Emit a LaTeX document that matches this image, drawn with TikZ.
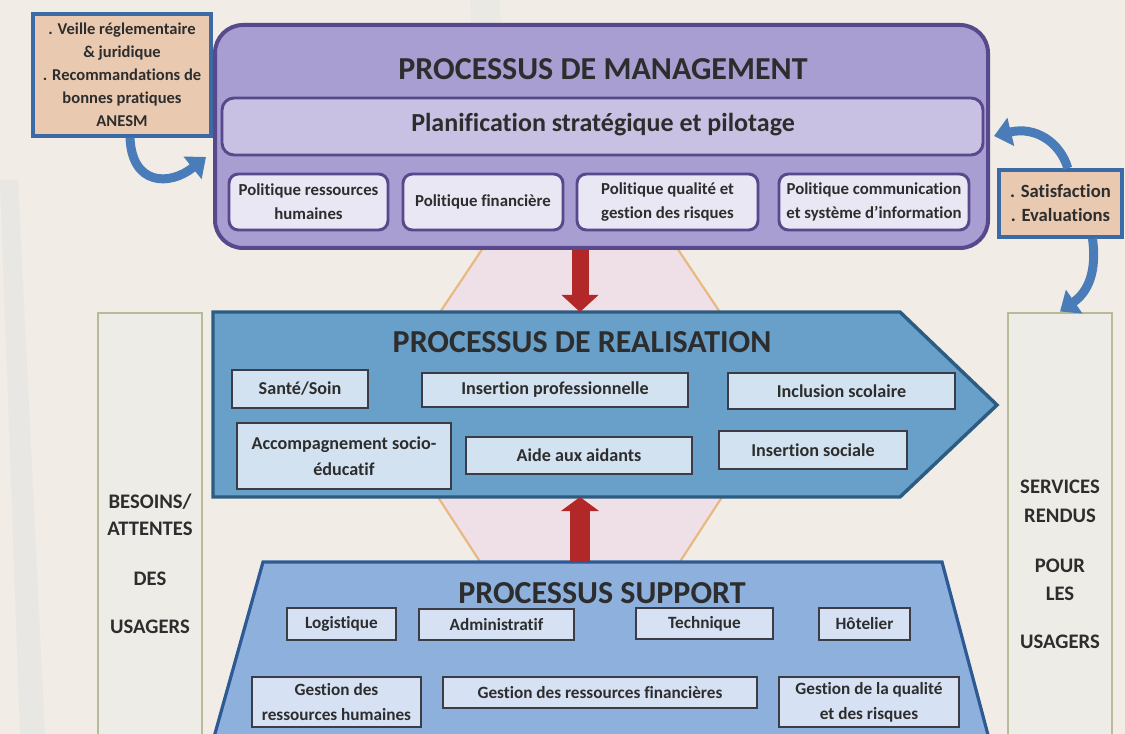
\documentclass[tikz,border=0pt]{standalone}
\usepackage{fontspec}
\setmainfont{Carlito}[Ligatures=NoCommon]
\usetikzlibrary{arrows.meta}
\definecolor{bgc}{RGB}{241,237,230}
\definecolor{mgfill}{RGB}{168,158,210}
\definecolor{mgline}{RGB}{88,72,140}
\definecolor{plfill}{RGB}{200,193,228}
\definecolor{pofill}{RGB}{234,231,244}
\definecolor{refill}{RGB}{104,160,201}
\definecolor{reline}{RGB}{44,92,130}
\definecolor{rbfill}{RGB}{210,226,240}
\definecolor{boxline}{RGB}{60,60,70}
\definecolor{sufill}{RGB}{141,176,220}
\definecolor{suline}{RGB}{45,90,148}
\definecolor{sbfill}{RGB}{214,226,243}
\definecolor{obfill}{RGB}{233,202,177}
\definecolor{obline}{RGB}{60,106,165}
\definecolor{colfill}{RGB}{238,236,230}
\definecolor{colline}{RGB}{184,186,152}
\definecolor{dmfill}{RGB}{239,224,232}
\definecolor{dmline}{RGB}{232,184,128}
\definecolor{redc}{RGB}{178,40,40}
\definecolor{bluec}{RGB}{74,124,186}
\definecolor{txt}{RGB}{45,45,45}
\newcommand\mybox[7]{\node[#2, minimum width={(#5-#3)*0.75pt}, minimum height={(#6-#4)*0.75pt}, inner sep=0pt] (#1) at ({(#3+#5)/2},{(#4+#6)/2}) {#7};}
\tikzset{
  every node/.style={text=txt},
  titletxt/.style={font=\fontsize{24pt}{28pt}\selectfont\bfseries, inner sep=0pt, anchor=base},
  mgbox/.style={draw=mgline, line width=3pt, fill=mgfill, rounded corners=21pt},
  planbox/.style={draw=mgline, line width=2.2pt, fill=plfill, rounded corners=9pt},
  polbox/.style={draw=mgline, line width=2.2pt, fill=pofill, rounded corners=7pt, align=center, font=\fontsize{12.6pt}{18pt}\selectfont\bfseries},
  rbox/.style={draw=boxline, line width=1pt, fill=rbfill, align=center, font=\fontsize{13.6pt}{19.5pt}\selectfont\bfseries},
  sbox/.style={draw=boxline, line width=1pt, fill=sbfill, align=center, font=\fontsize{12.9pt}{19pt}\selectfont\bfseries},
  obox/.style={draw=obline, line width=2.6pt, fill=obfill, align=center},
  colbox/.style={draw=colline, line width=2.2pt, fill=colfill},
  coltxt/.style={font=\fontsize{15.5pt}{18pt}\selectfont\bfseries, inner sep=0pt, anchor=base},
  redA/.style={draw=redc, line width=12.75pt, -{Triangle[width=27pt,length=12.75pt]}},
  redB/.style={draw=redc, line width=15pt, -{Triangle[width=28pt,length=10.5pt]}},
  bluearr/.style={draw=bluec, line width=6.75pt, -{Triangle[width=21pt,length=13pt]}},
}
\begin{document}
\begin{tikzpicture}[x=0.75pt,y=-0.75pt]
\useasboundingbox (0,0) rectangle (1125,734);
\clip (0,0) rectangle (1125,734);
\fill[bgc] (0,0) rectangle (1125,734);
% faint streaks
\fill[bluec, opacity=0.05] (0,180) -- (18,180) -- (45,734) -- (20,734) -- cycle;
\fill[bluec, opacity=0.03] (470,0) -- (500,0) -- (520,734) -- (490,734) -- cycle;
% side columns
\mybox{bs}{colbox}{98}{313}{202}{770}{}
\mybox{sv}{colbox}{1008}{313}{1112}{770}{}
\node[coltxt] (bs1) at (150,508) {BESOINS/};
\node[coltxt] (bs2) at (150,535) {ATTENTES};
\node[coltxt] (bs3) at (150,585) {DES};
\node[coltxt] (bs4) at (150,633) {USAGERS};
\node[coltxt] (sv1) at (1060,493) {SERVICES};
\node[coltxt] (sv2) at (1060,522) {RENDUS};
\node[coltxt] (sv3) at (1060,572) {POUR};
\node[coltxt] (sv4) at (1060,600) {LES};
\node[coltxt] (sv5) at (1060,648) {USAGERS};
% diamond
\filldraw[fill=dmfill, draw=dmline, line width=1.6pt] (505,215) -- (378,405) -- (505,600) -- (655,600) -- (782,405) -- (655,215) -- cycle;
% management
\mybox{mg}{mgbox}{215}{25}{988}{248}{}
\node[titletxt] (mgt) at (603,80) {PROCESSUS DE MANAGEMENT};
\mybox{pl}{planbox}{222}{98}{983}{155}{}
\node[font=\fontsize{19.5pt}{22pt}\selectfont\bfseries, inner sep=0pt, anchor=base] (plt) at (603,132) {Planification stratégique et pilotage};
\mybox{p1}{polbox}{229}{174}{388}{230}{Politique ressources\\humaines}
\mybox{p2}{polbox}{403}{174}{563}{230}{Politique financière}
\mybox{p3}{polbox}{577}{174}{758}{230}{Politique qualité et\\gestion des risques}
\mybox{p4}{polbox}{779}{174}{969}{230}{Politique communication\\et système d’information}
% realisation
\filldraw[fill=refill, draw=reline, line width=2.6pt, line join=miter] (213,312) -- (900,312) -- (997,405) -- (900,497) -- (213,497) -- cycle;
\coordinate (re-top) at (580,312);
\coordinate (re-bot) at (580,497);
\node[titletxt] (ret) at (582,353) {PROCESSUS DE REALISATION};
\mybox{r1}{rbox}{232}{370}{368}{408}{Santé/Soin}
\mybox{r2}{rbox}{422}{373}{688}{407}{Insertion professionnelle}
\mybox{r3}{rbox}{728}{373}{955}{409}{Inclusion scolaire}
\mybox{r4}{rbox}{237}{423}{451}{489}{Accompagnement socio-\\éducatif}
\mybox{r5}{rbox}{466}{437}{692}{474}{Aide aux aidants}
\mybox{r6}{rbox}{719}{431}{907}{469}{Insertion sociale}
% support
\filldraw[fill=sufill, draw=suline, line width=2.4pt, line join=miter] (263,562) -- (942,562) -- (1000,780) -- (202,780) -- cycle;
\coordinate (su-top) at (580,562);
\node[titletxt] (sut) at (602,603) {PROCESSUS SUPPORT};
\mybox{s1}{sbox}{287}{608}{396}{640}{Logistique}
\mybox{s2}{sbox}{419}{609}{574}{640}{Administratif}
\mybox{s3}{sbox}{636}{608}{773}{639}{Technique}
\mybox{s4}{sbox}{819}{608}{910}{640}{Hôtelier}
\mybox{s5}{sbox}{252}{677}{421}{727}{Gestion des\\ressources humaines}
\mybox{s6}{sbox}{443}{677}{757}{708}{Gestion des ressources financières}
\mybox{s7}{sbox}{779}{677}{959}{727}{Gestion de la qualité\\et des risques}
% orange boxes
\mybox{vb}{obox, font=\fontsize{12.4pt}{17.3pt}\selectfont\bfseries}{33}{14}{211}{136}{. Veille réglementaire\\\& juridique\\. Recommandations de\\bonnes pratiques\\ANESM}
\mybox{sb}{obox, font=\fontsize{14pt}{18pt}\selectfont\bfseries}{999}{170}{1122}{237}{. Satisfaction\\. Evaluations}
% red arrows
\coordinate (ax) at (580,0);
\draw[redA] (ax |- mg.south) -- (re-top);
\draw[redB] (su-top) -- (re-bot);
% blue arrows
\coordinate (mg-in) at (206,157);
\coordinate (mg-r) at (994,136);
\draw[bluearr] ([xshift=6pt]vb.south) .. controls (132,186) and (170,186) .. (mg-in);
\draw[bluearr] ([xshift=5.5pt]sb.north) .. controls (1060,142) and (1035,126) .. (mg-r);
\draw[bluearr] ([xshift=24pt]sb.south) .. controls (1097,272) and (1088,292) .. (sv.north);
\end{tikzpicture}
\end{document}
